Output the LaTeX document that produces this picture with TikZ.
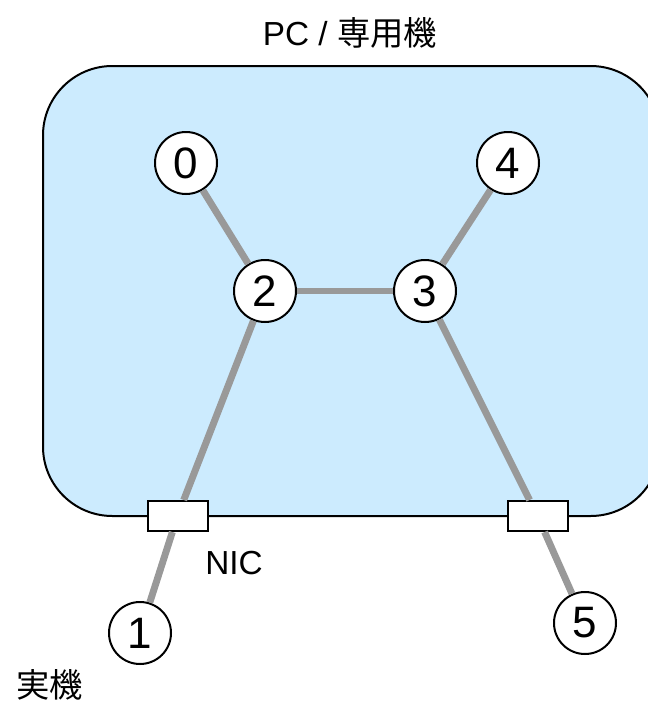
\documentclass[tikz,border=0pt]{standalone}
\usepackage{fontspec}
\setmainfont{Liberation Sans}
\newfontfamily\jpfont{Noto Sans CJK JP}
\definecolor{boxblue}{RGB}{204,235,254}
\definecolor{linkgray}{RGB}{153,153,153}
\tikzset{
  host/.style={circle,draw,line width=1.5pt,fill=white,minimum size=46.5pt,inner sep=0pt,font=\fontsize{33}{35}\selectfont},
  nic/.style={rectangle,draw,line width=1.5pt,fill=white,minimum width=45pt,minimum height=22.5pt,inner sep=0pt},
  link/.style={draw=linkgray,line width=5.2pt},
  label/.style={font=\fontsize{25}{28}\selectfont}
}

\begin{document}
\begin{tikzpicture}[x=0.75pt,y=0.75pt,yscale=-1,xscale=1]
\useasboundingbox (0,0) rectangle (648,703);

%Rounded box: the machine
\draw [fill=boxblue, line width=1.5pt, rounded corners=52pt] (43,66) rectangle (660,516) ;

% Title
\node [label] (title) at (350,33) {PC / {\jpfont 専用機}};

% Hosts
\node [host] (n0) at (186,163) {0};
\node [host] (n4) at (508,163) {4};
\node [host] (n2) at (265,291) {2};
\node [host] (n3) at (425,291) {3};
\node [host] (n1) at (140,633) {1};
\node [host] (n5) at (585,623) {5};

% NICs
\node [nic] (nicL) at (177.5,516) {};
\node [nic] (nicR) at (537.5,516) {};

% Links
\draw [link] (n0) -- (n2) ;
\draw [link] (n4) -- (n3) ;
\draw [link] (n2) -- (n3) ;
\draw [link] (n2) -- (nicL) -- (n1) ;
\draw [link] (n3) -- (nicR) -- (n5) ;

% Text Node
\node [label] (niclabel) at (234,563) {NIC};
% Text Node
\node [label] (real) at (50,685) {\jpfont 実機};

\end{tikzpicture}
\end{document}
